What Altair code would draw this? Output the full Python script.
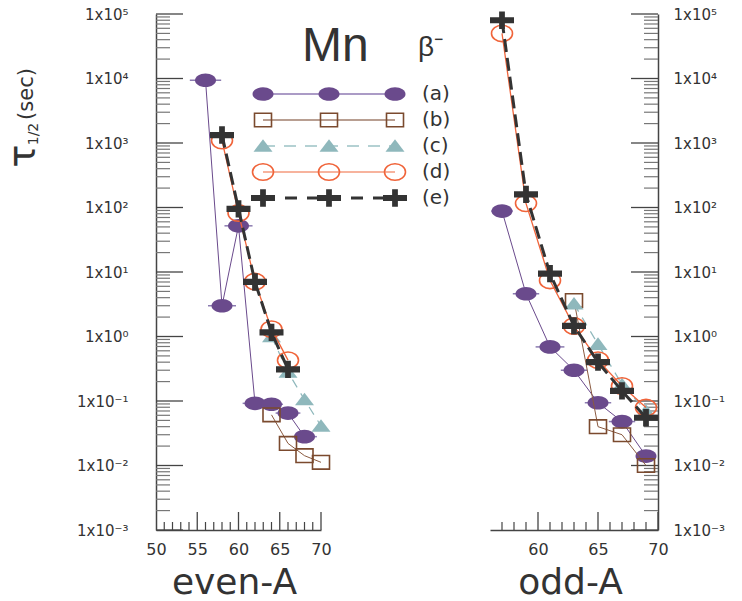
import altair as alt
import pandas as pd

# ---------------- data ----------------
series_keys = ["a", "b", "c", "d", "e"]
series_labels = ["(a)", "(b)", "(c)", "(d)", "(e)"]

even_a_x = [56, 58, 60, 62, 64, 66, 68]
even_a_y = [9.4e3, 3.0, 52, 0.092, 0.089, 0.065, 0.028]
even_a_xerr = [1.9, 1.7, 1.7, 1.5, 1.4, 1.5, 1.5]
even_b_x = [64, 66, 68, 70]
even_b_y = [0.061, 0.022, 0.0142, 0.0112]
even_c_x = [64, 66, 68, 70]
even_c_y = [1.0, 0.28, 0.105, 0.041]
even_d_x = [58, 60, 62, 64, 66]
even_d_y = [1.09e3, 82, 7.1, 1.3, 0.43]
even_e_x = [58, 60, 62, 64, 66]
even_e_y = [1.33e3, 95, 7.0, 1.16, 0.31]

odd_a_x = [57, 59, 61, 63, 65, 67, 69]
odd_a_y = [88, 4.6, 0.69, 0.30, 0.094, 0.048, 0.014]
odd_a_xerr = [0.9, 1.1, 1.2, 1.1, 1.1, 1.1, 0.8]
odd_b_x = [63, 65, 67, 69]
odd_b_y = [3.6, 0.040, 0.030, 0.010]
odd_c_x = [63, 65, 67, 69]
odd_c_y = [3.2, 0.76, 0.18, 0.07]
odd_d_x = [57, 59, 61, 63, 65, 67, 69]
odd_d_y = [5.0e4, 116, 7.4, 1.45, 0.43, 0.171, 0.079]
odd_e_x = [57, 59, 61, 63, 65, 67, 69]
odd_e_y = [8.0e4, 160, 9.4, 1.46, 0.40, 0.143, 0.055]

y_major = [1e-3, 1e-2, 1e-1, 1e0, 1e1, 1e2, 1e3, 1e4, 1e5]
y_labels = ["1x10⁻³", "1x10⁻²", "1x10⁻¹", "1x10⁰", "1x10¹",
            "1x10²", "1x10³", "1x10⁴", "1x10⁵"]
y_minor = [k * 10.0 ** n for n in range(-3, 5) for k in range(2, 10)]

even_x_labels = [50, 55, 60, 65, 70]
even_x_minor = [51, 52, 53, 54, 56, 57, 58, 59, 61, 62, 63, 64, 66, 67, 68, 69]
odd_x_labels = [60, 65, 70]
odd_x_minor = [57, 58, 59, 61, 62, 63, 64, 66, 67, 68, 69]

# ---------------- styles ----------------
ELLIPSE = ("M-1,0C-1,-0.359,-0.552,-0.65,0,-0.65C0.552,-0.65,1,-0.359,1,0"
           "C1,0.359,0.552,0.65,0,0.65C-0.552,0.65,-1,0.359,-1,0Z")
OVAL = ("M-1,0C-1,-0.431,-0.552,-0.78,0,-0.78C0.552,-0.78,1,-0.431,1,0"
        "C1,0.431,0.552,0.78,0,0.78C-0.552,0.78,-1,0.431,-1,0Z")
SQUARE = "M-1,-0.8L1,-0.8L1,0.8L-1,0.8Z"
TRIANGLE = "M0,-0.72L1,0.6L-1,0.6Z"
PLUS = ("M-1,-0.26L-0.24,-0.26L-0.24,-0.72L0.24,-0.72L0.24,-0.26L1,-0.26"
        "L1,0.26L0.24,0.26L0.24,0.72L-0.24,0.72L-0.24,0.26L-1,0.26Z")

STY = {
    "a": dict(color="#6a4a8c", shape=ELLIPSE, size=441, filled=True,
              lcolor="#6a4a8c", lwidth=1.0, dash=None, legline="#ab9bc6", legw=2),
    "b": dict(color="#7b4a2e", shape=SQUARE, size=289, filled=False,
              lcolor="#8a5a40", lwidth=1.0, dash=None, legline="#a07e6c", legw=1.5),
    "c": dict(color="#8fb8bc", shape=TRIANGLE, size=361, filled=True,
              lcolor="#8fb8bc", lwidth=1.2, dash=[9, 7], legline="#9cc2c5", legw=1.5),
    "d": dict(color="#f0643a", shape=OVAL, size=441, filled=False,
              lcolor="#f0643a", lwidth=1.3, dash=None, legline="#f49a7c", legw=1.5),
    "e": dict(color="#333333", shape=PLUS, size=576, filled=True,
              lcolor="#333333", lwidth=3.0, dash=[13, 6], legline="#333333", legw=3),
}

FONT = "DejaVu Sans"
TXT = "#333333"
H = 516


def line_kw(s):
    kw = dict(color=STY[s]["lcolor"], strokeWidth=STY[s]["lwidth"])
    if STY[s]["dash"]:
        kw["strokeDash"] = STY[s]["dash"]
    return kw


def point_kw(s):
    st = STY[s]
    kw = dict(shape=st["shape"], size=st["size"], filled=st["filled"],
              color=st["color"], opacity=1)
    if not st["filled"]:
        kw["strokeWidth"] = 1.6
    return kw


def panel(series, err, xdom, width, side, xvals, xminor, xtitle, title_x):
    xs = alt.Scale(domain=xdom, nice=False, zero=False)
    ysc = alt.Scale(type="log", domain=[1e-3, 1e5], nice=False)
    xaxis = alt.Axis(values=xvals, format="d", ticks=False, grid=False,
                     labelFlush=False, labelOverlap=False,
                     domainColor="#444444", domainWidth=1.5,
                     labelFont=FONT, labelFontSize=16, labelColor=TXT, labelPadding=11,
                     title=xtitle, titleFont=FONT, titleFontSize=36,
                     titleFontWeight="normal", titleColor=TXT,
                     titleX=title_x, titleY=63, titleBaseline="alphabetic")
    label_expr = "[" + ",".join("'%s'" % t for t in y_labels) + "][round(log(datum.value)/LN10)+3]"
    yaxis = alt.Axis(orient=side, values=y_major, labelExpr=label_expr, ticks=False,
                     grid=False, labelFlush=False, labelOverlap=False,
                     domainColor="#444444", domainWidth=1.5,
                     labelFont=FONT, labelFontSize=15, labelColor=TXT,
                     labelPadding=28 if side == "left" else 15,
                     labelAlign="right" if side == "left" else "left", title=None)

    def X(f):
        return alt.X(f + ":Q", scale=xs, axis=xaxis)

    def Y(f):
        return alt.Y(f + ":Q", scale=ysc, axis=yaxis)

    layers = []
    # inward tick marks
    ymaj = pd.DataFrame({"y": y_major})
    ymin = pd.DataFrame({"y": y_minor})
    if side == "left":
        layers.append(alt.Chart(ymaj).mark_rule(color="#444444", strokeWidth=1.3).encode(
            y=Y("y"), x=alt.value(0), x2=alt.value(27)))
        layers.append(alt.Chart(ymin).mark_rule(color="#777777", strokeWidth=1.2).encode(
            y=Y("y"), x=alt.value(0), x2=alt.value(14)))
    else:
        layers.append(alt.Chart(ymaj).mark_rule(color="#444444", strokeWidth=1.3).encode(
            y=Y("y"), x=alt.value(width - 27), x2=alt.value(width)))
        layers.append(alt.Chart(ymin).mark_rule(color="#777777", strokeWidth=1.2).encode(
            y=Y("y"), x=alt.value(width - 14), x2=alt.value(width)))
    xmaj = pd.DataFrame({"x": [v for v in xvals if v != xdom[0]]})
    xmin = pd.DataFrame({"x": xminor})
    layers.append(alt.Chart(xmaj).mark_rule(color="#444444", strokeWidth=1.3).encode(
        x=X("x"), y=alt.value(H), y2=alt.value(H - 18)))
    layers.append(alt.Chart(xmin).mark_rule(color="#444444", strokeWidth=1.2).encode(
        x=X("x"), y=alt.value(H), y2=alt.value(H - 8)))

    for s in series_keys:
        xs_, ys_ = series[s]
        df = pd.DataFrame({"x": xs_, "y": ys_})
        layers.append(alt.Chart(df).mark_line(**line_kw(s)).encode(x=X("x"), y=Y("y")))
        if s == "a":
            edf = pd.DataFrame({"y": ys_, "lo": [v - e for v, e in zip(xs_, err)],
                                "hi": [v + e for v, e in zip(xs_, err)]})
            layers.append(alt.Chart(edf).mark_rule(color="#8b7bb0", strokeWidth=1.5).encode(
                x=X("lo"), x2="hi:Q", y=Y("y")))
        layers.append(alt.Chart(df).mark_point(**point_kw(s)).encode(x=X("x"), y=Y("y")))
    return alt.layer(*layers).properties(width=width, height=H)


even_series = {"a": (even_a_x, even_a_y), "b": (even_b_x, even_b_y), "c": (even_c_x, even_c_y),
               "d": (even_d_x, even_d_y), "e": (even_e_x, even_e_y)}
odd_series = {"a": (odd_a_x, odd_a_y), "b": (odd_b_x, odd_b_y), "c": (odd_c_x, odd_c_y),
              "d": (odd_d_x, odd_d_y), "e": (odd_e_x, odd_e_y)}

left_data = panel(even_series, even_a_xerr, [50, 70], 165, "left",
                  even_x_labels, even_x_minor, "even-A", 78)
right_data = panel(odd_series, odd_a_xerr, [56, 70], 168, "right",
                   odd_x_labels, odd_x_minor, "odd-A", 80)

# ---------------- legend (own scales) ----------------
leg_rows = []
for i, s in enumerate(series_keys):
    for slot in (0, 1, 2):
        leg_rows.append({"series": s, "row": i, "slot": slot})
leg_df = pd.DataFrame(leg_rows)
LX = alt.X("slot:Q", scale=alt.Scale(domain=[0, 2], range=[107, 239]), axis=None)
LY = alt.Y("row:Q", scale=alt.Scale(domain=[0, 4], range=[80, 184]), axis=None)
leg_layers = []
for s in series_keys:
    sub = leg_df[leg_df.series == s]
    kw = dict(color=STY[s]["legline"], strokeWidth=STY[s]["legw"])
    if STY[s]["dash"]:
        kw["strokeDash"] = [12, 10] if s == "e" else [12, 9]
    leg_layers.append(alt.Chart(sub).mark_line(**kw).encode(x=LX, y=LY))
    leg_layers.append(alt.Chart(sub).mark_point(**point_kw(s)).encode(x=LX, y=LY))
lab_df = pd.DataFrame({"row": list(range(5)), "label": series_labels})
leg_layers.append(alt.Chart(lab_df).mark_text(
    font=FONT, fontSize=20, color=TXT, align="left", baseline="middle").encode(
    x=alt.value(266), y=LY, text="label:N"))


# ---------------- titles ----------------
def txt(t, x, y, size, font=FONT, angle=0, align="left", baseline="alphabetic"):
    kw = dict(font=font, fontSize=size, color=TXT, align=align, baseline=baseline)
    if angle:
        kw["angle"] = angle
    return alt.Chart(pd.DataFrame({"t": [t]})).mark_text(**kw).encode(
        x=alt.value(x), y=alt.value(y), text="t:N")


title_layers = [
    txt("Mn", 146, 47, 48, font="Liberation Sans"),
    txt("β⁻", 262, 42, 28, font="Liberation Sans"),
    txt("τ", -121, 142, 38, angle=270, align="center"),
    txt("1/2", -118, 120, 14, angle=270, align="center"),
    txt("(sec)", -123, 80, 21, angle=270, align="center"),
]

left = alt.layer(left_data, alt.layer(*leg_layers, *title_layers)).resolve_scale(
    x="independent", y="independent")

chart = alt.hconcat(left, right_data, spacing=169, bounds="flush").properties(
    padding={"left": 4, "top": 6, "right": 0, "bottom": 0}
).configure_view(stroke="transparent")

chart.save("out.html", embed_options={"renderer": "svg", "actions": False})
